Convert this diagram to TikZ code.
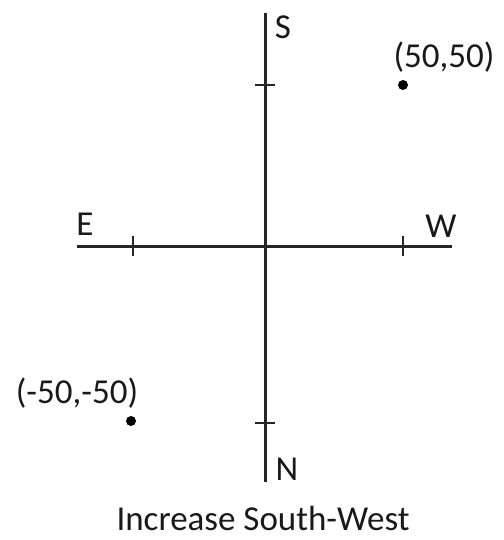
\documentclass[tikz,border=0pt]{standalone}
\usepackage{fontspec}
\setmainfont{Carlito}
\usetikzlibrary{positioning}

\tikzset{
axis/.style={line width=3pt, black!85},
tick/.style={line width=2.6pt, black!85},
dot/.style={circle, fill=black, inner sep=0pt, minimum size=10pt},
lbl/.style={inner sep=0pt, text=black!90, font=\fontsize{35}{40}\selectfont}
}

\begin{document}
\begin{tikzpicture}[x=1pt,y=-1pt]

%%%%%%%%%%%%%%%%%%%%%%%%%%%%%%%%%%%%%%%%%%%%%%%%%%%%%%
% FRAME
%%%%%%%%%%%%%%%%%%%%%%%%%%%%%%%%%%%%%%%%%%%%%%%%%%%%%%

\useasboundingbox[fill=white] (0,0) rectangle (503,540);

%%%%%%%%%%%%%%%%%%%%%%%%%%%%%%%%%%%%%%%%%%%%%%%%%%%%%%
% AXES
%%%%%%%%%%%%%%%%%%%%%%%%%%%%%%%%%%%%%%%%%%%%%%%%%%%%%%

\coordinate (top) at (265,13);
\coordinate (bottom) at (265,482);
\coordinate (left) at (77,246);
\coordinate (right) at (452,246);

\draw[axis] (top)--(bottom);

\draw[axis] (left)--(right);

%%%%%%%%%%%%%%%%%%%%%%%%%%%%%%%%%%%%%%%%%%%%%%%%%%%%%%
% TICKS
%%%%%%%%%%%%%%%%%%%%%%%%%%%%%%%%%%%%%%%%%%%%%%%%%%%%%%

\coordinate (ts) at (265,85);
\coordinate (tn) at (265,423);
\coordinate (te) at (133,246);
\coordinate (tw) at (403,246);

\draw[tick] ([xshift=-10pt]ts)--([xshift=10pt]ts);
\draw[tick] ([xshift=-10pt]tn)--([xshift=10pt]tn);
\draw[tick] ([yshift=-10pt]te)--([yshift=10pt]te);
\draw[tick] ([yshift=-10pt]tw)--([yshift=10pt]tw);

%%%%%%%%%%%%%%%%%%%%%%%%%%%%%%%%%%%%%%%%%%%%%%%%%%%%%%
% POINTS
%%%%%%%%%%%%%%%%%%%%%%%%%%%%%%%%%%%%%%%%%%%%%%%%%%%%%%

\node[dot](pos) at (403,85){};
\node[dot](neg) at (131,421){};

\node[lbl](poslbl) at (444,57){(50,50)};
\node[lbl](neglbl) at (77,393){(-50,-50)};

%%%%%%%%%%%%%%%%%%%%%%%%%%%%%%%%%%%%%%%%%%%%%%%%%%%%%%
% LABELS
%%%%%%%%%%%%%%%%%%%%%%%%%%%%%%%%%%%%%%%%%%%%%%%%%%%%%%

\node[lbl](south) at (283,27){S};
\node[lbl](north) at (287,469){N};
\node[lbl](east) at (85,224){E};
\node[lbl](west) at (441,226){W};

\node[lbl](caption) at (263,518){Increase South-West};

\end{tikzpicture}
\end{document}
